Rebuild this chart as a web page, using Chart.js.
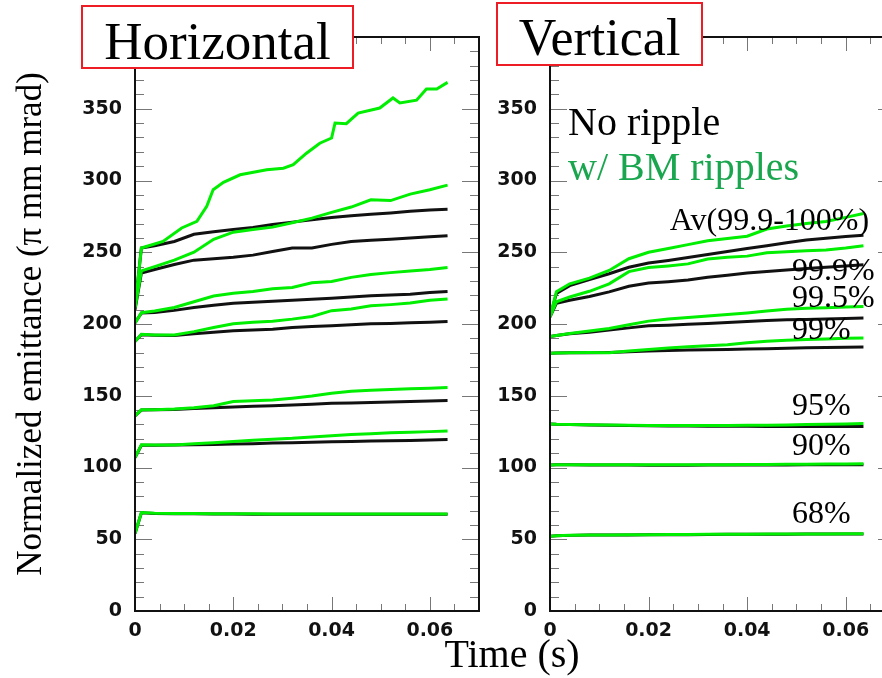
<!DOCTYPE html>
<html>
<head>
<meta charset="utf-8">
<script src="https://cdn.jsdelivr.net/npm/chart.js@4/dist/chart.umd.min.js"></script>
<style>
  body { margin: 0; background: #fff; overflow: hidden; width: 882px; height: 678px; position: relative; }
  canvas { position: absolute; top: 0; }
  .box { position: absolute; box-sizing: border-box; background: #fff; border: 2px solid #ee1c24;
         font-family: "Liberation Serif", serif; text-align: center; color: #000; white-space: nowrap; }
  #xtitle { position: absolute; left: 362px; top: 634px; width: 300px; text-align: center;
            font-family: "Liberation Serif", serif; font-size: 40px; line-height: 40px; color: #000; }
</style>
</head>
<body>
<canvas id="hor" width="490" height="678" style="left:0px"></canvas>
<canvas id="ver" width="420" height="678" style="left:480px"></canvas>
<div class="box" style="left:81px; top:5px; width:273px; height:64px; font-size:53px; line-height:68px;">Horizontal</div>
<div class="box" style="left:496px; top:2px; width:207px; height:64px; font-size:52px; line-height:67px;">Vertical</div>
<div id="xtitle">Time (s)</div>

<script>
// common time grid (s)
const timeGrid = [0, 0.0013, 0.004, 0.008, 0.012, 0.016, 0.02, 0.024, 0.028, 0.032, 0.036, 0.04, 0.044, 0.048, 0.052, 0.056, 0.06, 0.0636];

// Horizontal, top green curve is sampled on its own times
const hGreen1Time = [0, 0.0013, 0.0057, 0.0095, 0.0126, 0.0146, 0.0159, 0.018, 0.0214, 0.0268, 0.0302, 0.0322, 0.0349, 0.0376, 0.04, 0.0407, 0.043, 0.0454, 0.0498, 0.0525, 0.0539, 0.0573, 0.0593, 0.0614, 0.0636];
const hGreen1 = [212, 253, 257.5, 266.9, 271.5, 282, 293.6, 298.7, 304, 307.5, 308.6, 311, 319, 326, 329.6, 340, 339.6, 347, 350.5, 357.5, 354, 356, 363.8, 363.8, 368.4];

const hBlack1 = [212, 253, 254.5, 257.5, 262.5, 264.3, 265.8, 267.3, 269.3, 271, 272.6, 274.2, 275.5, 276.4, 277.4, 278.6, 279.5, 280];
const hBlack2 = [210, 235.5, 238, 241.5, 244.5, 245.5, 246.5, 248, 250.5, 253, 253, 255.5, 257.5, 258.3, 259, 260, 260.8, 261.5];
const hGreen2 = [211, 237, 240, 244.5, 250, 259, 264, 265.8, 267.5, 270.5, 273.8, 277.8, 281.5, 286.6, 286, 290.5, 293.6, 296.8];
const hBlack3 = [201, 207.6, 208, 209.5, 211.5, 213, 214.4, 215.2, 215.8, 216.6, 217.3, 218, 218.8, 219.7, 220.2, 220.8, 222, 222.7];
const hGreen3 = [200.6, 207.9, 209, 211.5, 215.5, 219.5, 221.5, 222.7, 224.5, 225.5, 228.8, 229.6, 232.5, 234.5, 235.8, 237, 238, 239.4];
const hBlack4 = [188, 192.5, 192.2, 192, 193.2, 194.3, 195.3, 195.9, 196.4, 197.5, 198.2, 198.7, 199.4, 200.1, 200.4, 200.8, 201.3, 201.7];
const hGreen4 = [187.8, 192.9, 192.3, 192.4, 194.7, 197.5, 200.1, 201.2, 202, 203.4, 205.2, 209.3, 210.5, 212.7, 213.5, 214.6, 216.5, 217.4];
const hBlack5 = [136, 140, 140.2, 140.5, 141.1, 141.6, 142.1, 142.6, 143, 143.5, 144, 144.7, 145, 145.3, 145.7, 146, 146.4, 146.7];
const hGreen5 = [136, 140.2, 140.3, 140.7, 141.6, 143, 146, 146.5, 147.1, 148.3, 149.8, 151.7, 153.2, 153.8, 154.4, 154.9, 155.3, 155.7];
const hBlack6 = [107, 115.5, 115.5, 115.6, 115.8, 116, 116.3, 116.6, 117, 117.3, 117.6, 117.9, 118.2, 118.4, 118.7, 118.9, 119.2, 119.5];
const hGreen6 = [107, 115.8, 115.6, 115.7, 116.5, 117.2, 118.2, 119, 119.7, 120.3, 121.3, 122.2, 123, 123.6, 124.2, 124.6, 125, 125.5];
const hBlack7 = [54, 68.4, 68, 67.8, 67.7, 67.6, 67.6, 67.5, 67.5, 67.5, 67.4, 67.4, 67.4, 67.4, 67.4, 67.4, 67.4, 67.4];
const hGreen7 = [54, 68.6, 68.2, 68, 67.9, 67.8, 67.7, 67.7, 67.6, 67.6, 67.6, 67.6, 67.6, 67.6, 67.6, 67.6, 67.6, 67.6];

// Vertical
const vGreen1 = [205, 222.5, 228, 232, 237.3, 245.5, 250, 252.6, 255.3, 258, 259.6, 261.2, 266.2, 268.3, 270, 271.4, 274.3, 277];
const vBlack1 = [205, 221.3, 226.7, 231, 235, 239.5, 242.5, 244.3, 246.4, 248.5, 250.5, 252.6, 254.5, 256.6, 258.5, 259.7, 260.9, 261.8];
const vGreen2 = [205, 215.5, 218.8, 222.8, 228, 236.5, 239.3, 240.5, 241.9, 245.3, 246.5, 247.3, 249.6, 250.3, 251, 251.6, 253, 254.6];
const vBlack2 = [205, 214.4, 216.5, 219.2, 222.4, 226.3, 228.6, 229.5, 230.6, 232.5, 234, 235.6, 236.6, 237.6, 238.7, 239.6, 240.5, 241.3];
const vGreen3 = [191.3, 192, 193.4, 195.2, 196.9, 199.5, 202, 203.5, 204.6, 205.5, 206.7, 207.7, 209, 210.3, 211, 211.4, 211.9, 212.2];
const vBlack3 = [191.3, 192, 193.2, 194.3, 195.8, 197.3, 198.7, 199.2, 199.8, 200.4, 201.1, 201.7, 202.4, 202.9, 203.2, 203.5, 203.8, 204.1];
const vGreen4 = [179.7, 179.8, 180, 180.1, 179.9, 181.2, 182.3, 183.3, 184.2, 184.9, 185.6, 187, 187.9, 188.6, 189.2, 189.6, 190, 190.2];
const vBlack4 = [179.7, 179.8, 179.9, 180, 180.2, 180.7, 181.2, 181.5, 181.8, 182, 182.3, 182.5, 182.8, 183.1, 183.4, 183.6, 183.8, 183.9];
const vGreen5 = [130.4, 130.2, 130, 129.8, 129.6, 129.4, 129.3, 129.2, 129.2, 129.2, 129.3, 129.4, 129.5, 129.7, 129.9, 130.2, 130.4, 130.6];
const vBlack5 = [130.4, 130.2, 130, 129.7, 129.5, 129.3, 129.1, 129, 128.9, 128.8, 128.7, 128.7, 128.6, 128.6, 128.5, 128.5, 128.5, 128.5];
const vGreen6 = [101.8, 102, 102, 102, 101.9, 101.9, 101.9, 101.9, 102, 102, 102, 102.1, 102.1, 102.2, 102.3, 102.4, 102.5, 102.6];
const vBlack6 = [101.8, 101.9, 101.9, 101.8, 101.7, 101.7, 101.6, 101.6, 101.6, 101.7, 101.7, 101.7, 101.8, 101.8, 101.9, 101.9, 102, 102];
const vGreen7 = [52, 52.5, 52.8, 53, 53, 53.1, 53.2, 53.3, 53.3, 53.4, 53.5, 53.5, 53.6, 53.6, 53.7, 53.7, 53.8, 53.8];
const vBlack7 = [52, 52.4, 52.7, 52.9, 53, 53, 53.1, 53.2, 53.2, 53.3, 53.4, 53.4, 53.5, 53.5, 53.6, 53.6, 53.7, 53.7];

// text placed in the Vertical panel (anchored in data units)
const vNotes = [
  { text: "No ripple", t: 0.00365, v: 331.9, color: "#000", size: 40 },
  { text: "w/ BM ripples", t: 0.00365, v: 300.6, color: "#1aa64f", size: 40 },
  { text: "Av(99.9-100%)", t: 0.0243, v: 265.7, color: "#000", size: 32 },
  { text: "99.9%", t: 0.0491, v: 230.8, color: "#000", size: 32 },
  { text: "99.5%", t: 0.0491, v: 211.8, color: "#000", size: 32 },
  { text: "99%", t: 0.0491, v: 189.5, color: "#000", size: 32 },
  { text: "95%", t: 0.0491, v: 136.7, color: "#000", size: 32 },
  { text: "90%", t: 0.0491, v: 108.8, color: "#000", size: 32 },
  { text: "68%", t: 0.0491, v: 61.6, color: "#000", size: 32 }
];

const GREEN = "#00ee00";
const BLACK = "#111111";

document.addEventListener("DOMContentLoaded", drawCharts);

function pts(times, vals) {
  return vals.map((v, i) => ({ x: times[i], y: v }));
}

function line(data, color) {
  return {
    data: data,
    borderColor: color,
    borderWidth: 3,
    pointRadius: 0,
    tension: 0,
    fill: false,
    order: color === GREEN ? 0 : 1
  };
}

// ROOT style frame with inward ticks on all four sides
const frameTicks = {
  id: "frameTicks",
  beforeDatasetsDraw(chart) {
    const { ctx, chartArea: a, scales: { x, y } } = chart;
    ctx.save();
    ctx.strokeStyle = "#777";
    ctx.lineWidth = 1;
    ctx.beginPath();
    for (let v = 0; v <= 400; v += 10) {
      const py = Math.round(y.getPixelForValue(v)) + 0.5;
      const len = v % 50 === 0 ? 17 : 9;
      ctx.moveTo(a.left, py); ctx.lineTo(a.left + len, py);
      ctx.moveTo(a.right, py); ctx.lineTo(a.right - len, py);
    }
    for (let i = 0; i <= 14; i++) {
      const px = Math.round(x.getPixelForValue(i * 0.005)) + 0.5;
      const len = i % 4 === 0 ? 14 : 7;
      ctx.moveTo(px, a.bottom); ctx.lineTo(px, a.bottom - len);
      ctx.moveTo(px, a.top); ctx.lineTo(px, a.top + len);
    }
    ctx.stroke();
    ctx.restore();
  },
  afterDatasetsDraw(chart) {
    const { ctx, chartArea: a } = chart;
    ctx.save();
    ctx.strokeStyle = "#111";
    ctx.lineWidth = 2;
    ctx.strokeRect(a.left, a.top, a.right - a.left, a.bottom - a.top);
    ctx.restore();
  }
};

const notesPlugin = {
  id: "notes",
  afterDatasetsDraw(chart) {
    const { ctx, scales: { x, y } } = chart;
    ctx.save();
    ctx.textBaseline = "alphabetic";
    ctx.textAlign = "left";
    vNotes.forEach(n => {
      ctx.font = n.size + 'px "Liberation Serif"';
      ctx.fillStyle = n.color;
      ctx.fillText(n.text, x.getPixelForValue(n.t), y.getPixelForValue(n.v));
    });
    ctx.restore();
  }
};

function makeOptions(yWidth, rightPad, yTitle) {
  const tickFont = { family: "DejaVu Sans", weight: "bold", size: 19 };
  return {
    responsive: false,
    animation: false,
    devicePixelRatio: 1,
    layout: { padding: { top: 37, right: rightPad, left: 0, bottom: 0 } },
    plugins: { legend: { display: false }, tooltip: { enabled: false }, title: { display: false } },
    scales: {
      x: {
        type: "linear",
        min: 0,
        max: 0.07,
        grid: { display: false, drawTicks: false },
        border: { display: false },
        ticks: {
          stepSize: 0.02,
          includeBounds: false,
          autoSkip: false,
          maxRotation: 0,
          padding: 9,
          color: "#111",
          font: tickFont,
          callback: v => (v === 0 ? "0" : v.toFixed(2))
        },
        afterFit: s => { s.height = 67; }
      },
      y: {
        min: 0,
        max: 400,
        grid: { display: false, drawTicks: false },
        border: { display: false },
        ticks: {
          stepSize: 50,
          padding: 13,
          color: "#111",
          font: tickFont,
          callback: v => (v >= 400 ? "" : v)
        },
        title: yTitle ? {
          display: true,
          text: yTitle,
          color: "#000",
          font: { family: "Liberation Serif", size: 35 },
          padding: { top: 11, bottom: 0 }
        } : { display: false },
        afterFit: s => { s.width = yWidth; }
      }
    }
  };
}

function drawCharts() {
  const hor = document.getElementById("hor").getContext("2d");
  new Chart(hor, {
    type: "line",
    data: {
      datasets: [
        line(pts(timeGrid, hBlack1), BLACK),
        line(pts(timeGrid, hBlack2), BLACK),
        line(pts(timeGrid, hBlack3), BLACK),
        line(pts(timeGrid, hBlack4), BLACK),
        line(pts(timeGrid, hBlack5), BLACK),
        line(pts(timeGrid, hBlack6), BLACK),
        line(pts(timeGrid, hBlack7), BLACK),
        line(pts(hGreen1Time, hGreen1), GREEN),
        line(pts(timeGrid, hGreen2), GREEN),
        line(pts(timeGrid, hGreen3), GREEN),
        line(pts(timeGrid, hGreen4), GREEN),
        line(pts(timeGrid, hGreen5), GREEN),
        line(pts(timeGrid, hGreen6), GREEN),
        line(pts(timeGrid, hGreen7), GREEN)
      ]
    },
    options: makeOptions(135, 11, "Normalized emittance (\u03c0 mm mrad)"),
    plugins: [frameTicks]
  });

  const ver = document.getElementById("ver").getContext("2d");
  new Chart(ver, {
    type: "line",
    data: {
      datasets: [
        line(pts(timeGrid, vBlack1), BLACK),
        line(pts(timeGrid, vBlack2), BLACK),
        line(pts(timeGrid, vBlack3), BLACK),
        line(pts(timeGrid, vBlack4), BLACK),
        line(pts(timeGrid, vBlack5), BLACK),
        line(pts(timeGrid, vBlack6), BLACK),
        line(pts(timeGrid, vBlack7), BLACK),
        line(pts(timeGrid, vGreen1), GREEN),
        line(pts(timeGrid, vGreen2), GREEN),
        line(pts(timeGrid, vGreen3), GREEN),
        line(pts(timeGrid, vGreen4), GREEN),
        line(pts(timeGrid, vGreen5), GREEN),
        line(pts(timeGrid, vGreen6), GREEN),
        line(pts(timeGrid, vGreen7), GREEN)
      ]
    },
    options: makeOptions(70, 5, null),
    plugins: [frameTicks, notesPlugin]
  });
}
</script>
</body>
</html>
